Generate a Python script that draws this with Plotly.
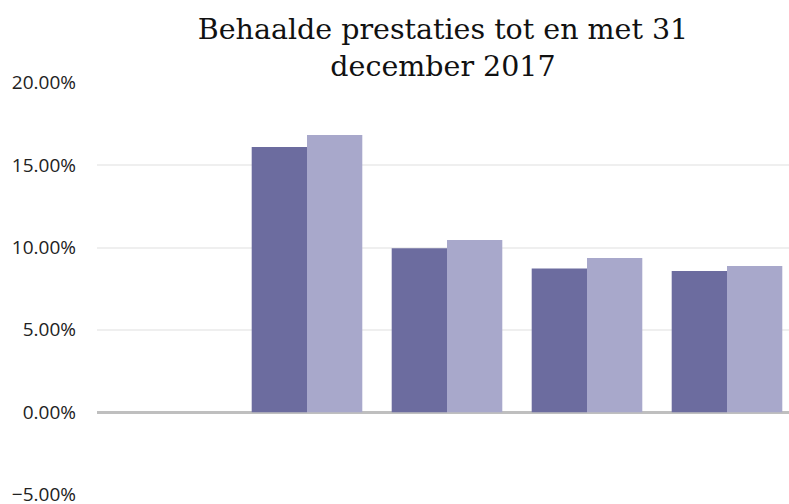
import plotly.graph_objects as go

categories = ["Cat 1", "Cat 2", "Cat 3", "Cat 4", "Cat 5"]
series_a = [0.0, 0.161, 0.0995, 0.0872, 0.0857]
series_b = [0.0, 0.1683, 0.1045, 0.0936, 0.0888]
y_ticks = [-0.05, 0.0, 0.05, 0.10, 0.15, 0.20]

fig = go.Figure()
fig.add_trace(go.Bar(x=categories, y=series_a, name="Serie 1",
                     marker=dict(color="#6c6c9f", line=dict(width=0))))
fig.add_trace(go.Bar(x=categories, y=series_b, name="Serie 2",
                     marker=dict(color="#a8a8cb", line=dict(width=0))))

fig.update_layout(
    width=789, height=504,
    paper_bgcolor="white", plot_bgcolor="white",
    margin=dict(l=97, r=0, t=82, b=9),
    barmode="group", bargap=0.21, bargroupgap=0,
    showlegend=False,
    title=dict(text="Behaalde prestaties tot en met 31<br>december 2017",
               x=0.5, xref="paper", xanchor="center",
               y=1 - 39 / 504, yref="container", yanchor="top",
               font=dict(family="DejaVu Serif", size=28.5, color="#111111")),
    xaxis=dict(range=[-0.5, -0.5 + 692 / 140], showticklabels=False,
               showgrid=False, zeroline=False, showline=False, ticks="",
               automargin=False),
    yaxis=dict(range=[-0.0503, 0.2005], tickvals=y_ticks, tickformat=".2%",
               showgrid=True, gridcolor="#efefef", gridwidth=1.5,
               zeroline=True, zerolinecolor="#bfbfbf", zerolinewidth=3,
               showline=False, ticks="", ticklabelstandoff=20,
               ticklabeloverflow="allow", automargin=False,
               tickfont=dict(family="Open Sans", size=19, color="#222222")),
)

fig.write_html(
    "out.html",
    config={"displayModeBar": False},
    post_script="document.body.style.margin='0';document.body.style.overflow='hidden';",
)
